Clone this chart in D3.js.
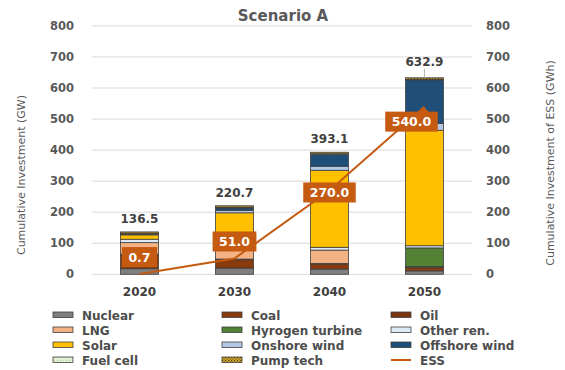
<!DOCTYPE html>
<html>
<head>
<meta charset="utf-8">
<script src="https://cdn.jsdelivr.net/npm/d3@7/dist/d3.min.js"></script>
<style>
  html, body { margin: 0; padding: 0; background: #fff; }
  svg { display: block; font-family: "DejaVu Sans", sans-serif; }
</style>
</head>
<body>
<svg id="chart" width="565" height="370"></svg>
<script>
// ---- data ----
const years = ["2020", "2030", "2040", "2050"];
const sources = ["Nuclear", "Coal", "Oil", "LNG", "Hyrogen turbine", "Other ren.",
                 "Solar", "Onshore wind", "Offshore wind", "Fuel cell", "Pump tech"];
// cumulative investment (GW) per source, one value per year
const nuclear   = [18, 20, 17, 11];
const coal      = [44, 27, 16, 10];
const oil       = [3, 2, 2, 2];
const lng       = [37, 45, 43, 2];
const hydrogen  = [0, 0, 0, 60];
const otherRen  = [11, 8, 9, 7];
const solar     = [14, 96, 248, 371.9];
const onshore   = [3, 8, 13, 22];
const offshore  = [1, 8, 38, 140];
const fuelCell  = [1, 2, 2, 2];
const pumpTech  = [4.5, 4.7, 5.1, 5];
const totals    = [136.5, 220.7, 393.1, 632.9];
// cumulative ESS investment (GWh)
const ess       = [0.7, 51.0, 270.0, 540.0];
const yTicks    = [0, 100, 200, 300, 400, 500, 600, 700, 800];

const seriesValues = [nuclear, coal, oil, lng, hydrogen, otherRen, solar, onshore, offshore, fuelCell, pumpTech];

// ---- styling ----
const colors = {
  "Nuclear": "#7f7f7f", "Coal": "#8a3b0e", "Oil": "#7a3410", "LNG": "#f4b183",
  "Hyrogen turbine": "#548235", "Other ren.": "#deebf7", "Solar": "#ffc000",
  "Onshore wind": "#b4c7e7", "Offshore wind": "#1f4e79",
  "Fuel cell": "url(#fuelPat)", "Pump tech": "url(#pumpPat)"
};
const essColor = "#c55a11";
const textColor = "#595959";

const svg = d3.select("#chart");
const defs = svg.append("defs");

// dotted fills for fuel cell and pump tech
const fp = defs.append("pattern").attr("id", "fuelPat").attr("patternUnits", "userSpaceOnUse")
  .attr("width", 3).attr("height", 3);
fp.append("rect").attr("width", 3).attr("height", 3).attr("fill", "#e2f0d9");
fp.append("rect").attr("width", 1).attr("height", 1).attr("fill", "#a9d18e");
const pp = defs.append("pattern").attr("id", "pumpPat").attr("patternUnits", "userSpaceOnUse")
  .attr("width", 3).attr("height", 3);
pp.append("rect").attr("width", 3).attr("height", 3).attr("fill", "#c9a227");
pp.append("rect").attr("width", 1).attr("height", 1).attr("fill", "#4a3a10");
pp.append("rect").attr("x", 1.5).attr("y", 1.5).attr("width", 1).attr("height", 1).attr("fill", "#4a3a10");

// ---- scales ----
const x = d3.scaleBand().domain(years).range([92, 472]).paddingInner(0.6).paddingOuter(0.3);
const y = d3.scaleLinear().domain([0, 800]).range([274.3, 25.9]);
const yR = d3.scaleLinear().domain([0, 800]).range([274.3, 25.9]);

// gridlines
svg.append("g").selectAll("line").data(yTicks).join("line")
  .attr("x1", 92).attr("x2", 472)
  .attr("y1", d => y(d)).attr("y2", d => y(d))
  .attr("stroke", "#d9d9d9").attr("stroke-width", 1);

// left axis
const leftAxis = svg.append("g").attr("transform", "translate(92,0)")
  .call(d3.axisLeft(y).tickValues(yTicks).tickSize(0).tickPadding(18));
leftAxis.select(".domain").remove();
leftAxis.selectAll("text").attr("fill", textColor).attr("font-size", 11.5)
  .attr("font-weight", "bold").attr("font-family", "DejaVu Sans");

// right axis
const rightAxis = svg.append("g").attr("transform", "translate(472,0)")
  .call(d3.axisRight(yR).tickValues(yTicks).tickSize(0).tickPadding(14));
rightAxis.select(".domain").remove();
rightAxis.selectAll("text").attr("fill", textColor).attr("font-size", 11.5)
  .attr("font-weight", "bold").attr("font-family", "DejaVu Sans");

// bottom axis labels
const bottomAxis = svg.append("g").attr("transform", "translate(0,274.3)")
  .call(d3.axisBottom(x).tickSize(0).tickPadding(13));
bottomAxis.select(".domain").remove();
bottomAxis.selectAll("text").attr("fill", "#404040").attr("font-size", 12)
  .attr("font-weight", "bold").attr("font-family", "DejaVu Sans");

// axis titles
svg.append("text").attr("transform", "translate(25,175) rotate(-90)")
  .attr("text-anchor", "middle").attr("font-size", 11).attr("fill", textColor)
  .text("Cumulative Investment (GW)");
svg.append("text").attr("transform", "translate(554,163) rotate(-90)")
  .attr("text-anchor", "middle").attr("font-size", 11).attr("fill", textColor)
  .text("Cumulative Investment of ESS (GWh)");

// title
svg.append("text").attr("x", 283).attr("y", 21).attr("text-anchor", "middle")
  .attr("font-size", 15).attr("font-weight", "bold").attr("fill", textColor)
  .text("Scenario A");

// ---- stacked bars ----
const table = years.map((yr, i) => {
  const row = { year: yr };
  sources.forEach((s, k) => row[s] = seriesValues[k][i]);
  return row;
});
const stacked = d3.stack().keys(sources)(table);

svg.append("g").selectAll("g").data(stacked).join("g")
  .attr("fill", d => colors[d.key])
  .selectAll("rect").data(d => d).join("rect")
  .attr("x", d => x(d.data.year))
  .attr("width", x.bandwidth())
  .attr("y", d => y(d[1]))
  .attr("height", d => Math.max(0, y(d[0]) - y(d[1])))
  .attr("stroke", "#3f3f3f").attr("stroke-width", 0.8);

// totals above bars
const totalG = svg.append("g");
years.forEach((yr, i) => {
  const cx = x(yr) + x.bandwidth() / 2;
  const top = y(totals[i]);
  const lifted = i === years.length - 1;
  const base = lifted ? top - 12 : top - 9;
  if (lifted) {
    totalG.append("line").attr("x1", cx).attr("x2", cx)
      .attr("y1", base + 3).attr("y2", top - 1)
      .attr("stroke", "#a6a6a6").attr("stroke-width", 0.8);
  }
  totalG.append("text").attr("x", cx).attr("y", base).attr("text-anchor", "middle")
    .attr("font-size", 12).attr("font-weight", "bold").attr("fill", "#404040")
    .text(totals[i].toFixed(1));
});

// ---- ESS line ----
const essPts = years.map((yr, i) => [x(yr) + x.bandwidth() / 2, yR(ess[i])]);
svg.append("path").attr("d", d3.line()(essPts))
  .attr("fill", "none").attr("stroke", essColor).attr("stroke-width", 2);

// ESS value callouts (box centre offset from its point)
const calloutOffset = [[0, -17], [0, -17], [0, 2], [-13, 15]];
const callG = svg.append("g");
essPts.forEach((p, i) => {
  const [dx, dy] = calloutOffset[i];
  const cx = p[0] + dx, cy = p[1] + dy;
  const g = callG.append("g");
  const t = g.append("text").attr("x", cx).attr("y", cy + 4.5).attr("text-anchor", "middle")
    .attr("font-size", 12.5).attr("font-weight", "bold").attr("fill", "#fff")
    .text(ess[i].toFixed(1));
  const w = t.node().getComputedTextLength() + 13;
  const h = 20;
  if (dy > h / 2) {
    // tail pointing back to the point
    g.insert("path", "text")
      .attr("d", `M${cx + w / 2 - 20},${cy - h / 2 + 1} L${p[0]},${p[1] + 1} L${cx + w / 2 - 8},${cy - h / 2 + 1} Z`)
      .attr("fill", essColor);
  }
  g.insert("rect", "text").attr("x", cx - w / 2).attr("y", cy - h / 2)
    .attr("width", w).attr("height", h).attr("fill", essColor);
});

// ---- legend ----
const legendItems = sources.concat(["ESS"]);
const colX = [53, 222, 391];
const rowY = [315, 330, 345, 360];
const lg = svg.append("g");
legendItems.forEach((name, i) => {
  const cx = colX[i % 3], cy = rowY[Math.floor(i / 3)];
  if (name === "ESS") {
    lg.append("line").attr("x1", cx).attr("x2", cx + 20).attr("y1", cy).attr("y2", cy)
      .attr("stroke", essColor).attr("stroke-width", 2);
  } else {
    lg.append("rect").attr("x", cx).attr("y", cy - 3).attr("width", 20).attr("height", 5.5)
      .attr("fill", colors[name]).attr("stroke", "#3f3f3f").attr("stroke-width", 0.8);
  }
  lg.append("text").attr("x", cx + 29).attr("y", cy + 4.5)
    .attr("font-size", 12).attr("font-weight", "bold").attr("fill", "#4d4d4d")
    .text(name);
});
</script>
</body>
</html>
